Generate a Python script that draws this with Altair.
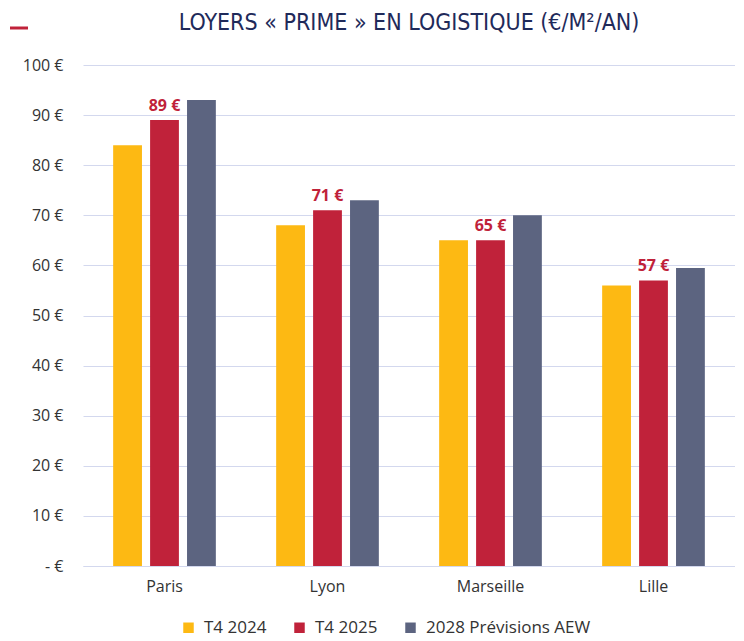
import altair as alt
import pandas as pd

cities = ["Paris", "Lyon", "Marseille", "Lille"]
series_names = ["T4 2024", "T4 2025", "2028 Prévisions AEW"]
t4_2024 = [84, 68, 65, 56]
t4_2025 = [89, 71, 65, 57]
prev_2028 = [93, 73, 70, 59.5]
colors = ["#FDB913", "#C0223A", "#5C6480"]
title_text = "LOYERS « PRIME » EN LOGISTIQUE (€/M²/AN)"

rows = []
for i, c in enumerate(cities):
    for s, vals in zip(series_names, [t4_2024, t4_2025, prev_2028]):
        rows.append({"ville": c, "serie": s, "valeur": vals[i]})
df = pd.DataFrame(rows)

lab = pd.DataFrame({"ville": cities, "serie": ["T4 2025"] * 4,
                    "valeur": t4_2025,
                    "txt": [f"{v} €" for v in t4_2025]})

FONT = "Open Sans"
W, H = 652, 501

x = alt.X("ville:N", sort=cities, title=None,
          scale=alt.Scale(paddingInner=0.37, paddingOuter=0.185),
          axis=alt.Axis(labelAngle=0, labelFontSize=16, labelColor="#333333",
                        labelFont=FONT, ticks=False, domainColor="#d3d8ee",
                        labelPadding=12))
xoff = alt.XOffset("serie:N", sort=series_names,
                   scale=alt.Scale(paddingInner=0.22, paddingOuter=0))

bars = alt.Chart(df).mark_bar().encode(
    x=x,
    xOffset=xoff,
    y=alt.Y("valeur:Q", title=None,
            scale=alt.Scale(domain=[0, 100]),
            axis=alt.Axis(values=list(range(0, 101, 10)), ticks=False, domain=False,
                          labelExpr="datum.value == 0 ? '- €' : datum.value + ' €'",
                          labelFontSize=16, labelColor="#333333", labelFont=FONT,
                          labelPadding=20, gridColor="#d3d8ee")),
    color=alt.Color("serie:N", sort=series_names,
                    scale=alt.Scale(domain=series_names, range=colors),
                    legend=alt.Legend(orient="none", legendX=97, legendY=554,
                                      direction="horizontal", title=None,
                                      symbolType="square", symbolSize=110,
                                      symbolStrokeWidth=0, labelOffset=7,
                                      labelFontSize=17, labelColor="#333333",
                                      labelFont=FONT, columnPadding=24,
                                      labelLimit=0)),
)

labels = alt.Chart(lab).mark_text(dy=-14, fontSize=16, fontWeight="bold",
                                  color="#C0223A", font=FONT).encode(
    x=alt.X("ville:N", sort=cities),
    xOffset=alt.XOffset("serie:N", sort=series_names,
                        scale=alt.Scale(domain=series_names)),
    y="valeur:Q",
    text="txt:N",
)

title = alt.Chart(pd.DataFrame({"t": [title_text]})).mark_text(
    font="Liberation Sans Narrow, DejaVu Sans Condensed, Roboto", fontSize=23,
    color="#1F2A5A", baseline="middle", align="center").encode(
    x=alt.value(326), y=alt.value(-42), text="t:N")

dash = alt.Chart(pd.DataFrame({"a": [0]})).mark_rule(color="#C0223A", strokeWidth=3).encode(
    x=alt.value(-73), x2=alt.value(-55), y=alt.value(-37))

chart = alt.layer(bars, labels, title, dash).properties(
    width=W, height=H,
    padding={"left": 75, "top": 57, "right": 0, "bottom": 74},
    autosize=alt.AutoSizeParams(type="none"),
).configure_view(stroke=None)

chart.save("out.html", embed_options={"renderer": "svg", "actions": False})
